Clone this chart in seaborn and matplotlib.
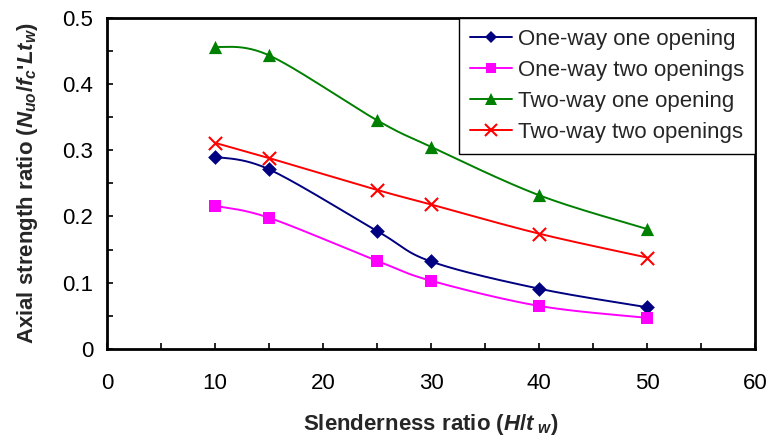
import numpy as np
import pandas as pd
import matplotlib
matplotlib.use("Agg")
import matplotlib.pyplot as plt
from matplotlib.lines import Line2D
from matplotlib.ticker import MultipleLocator
import seaborn as sns

slenderness = [10, 15, 25, 30, 40, 50]
one_way_one = [0.290, 0.271, 0.178, 0.132, 0.091, 0.063]
one_way_two = [0.216, 0.198, 0.133, 0.103, 0.065, 0.047]
two_way_one = [0.456, 0.443, 0.345, 0.305, 0.232, 0.181]
two_way_two = [0.311, 0.288, 0.240, 0.218, 0.174, 0.138]

series_names = ["One-way one opening", "One-way two openings",
                "Two-way one opening", "Two-way two openings"]
series_values = [one_way_one, one_way_two, two_way_one, two_way_two]
colors = ["#000080", "#FF00FF", "#008000", "#FF0000"]
markers = ["D", "s", "^", "x"]
msizes = [7.5, 8.5, 9.5, 9.5]

sns.set_style("ticks")
plt.rcParams['font.family'] = ['Liberation Sans', 'DejaVu Sans']
plt.rcParams['mathtext.fontset'] = 'custom'
plt.rcParams['mathtext.it'] = 'Liberation Sans:bold:italic'
plt.rcParams['mathtext.rm'] = 'Liberation Sans:bold'
plt.rcParams['mathtext.bf'] = 'Liberation Sans:bold'


def smooth(x, y, n=30):
    # Bezier smoothing through the data points (Excel-like smoothed line)
    x = np.asarray(x, float); y = np.asarray(y, float)
    P = np.column_stack([x, y])
    out = []
    m = len(P)
    for i in range(m - 1):
        p0 = P[i - 1] if i > 0 else P[i]
        p1 = P[i]; p2 = P[i + 1]
        p3 = P[i + 2] if i + 2 < m else P[i + 1]
        c1 = p1 + (p2 - p0) / 6.0
        c2 = p2 - (p3 - p1) / 6.0
        t = np.linspace(0, 1, n)[:, None]
        seg = ((1 - t) ** 3) * p1 + 3 * ((1 - t) ** 2) * t * c1 + 3 * (1 - t) * t ** 2 * c2 + t ** 3 * p2
        out.append(seg if i == 0 else seg[1:])
    s = np.vstack(out)
    return s[:, 0], s[:, 1]


fig = plt.figure(figsize=(7.72, 4.38), dpi=100)
ax = fig.add_axes([0.1386, 0.2032, 0.978 - 0.1386, 0.960 - 0.2032])

handles = []
for name, vals, c, mk, ms in zip(series_names, series_values, colors, markers, msizes):
    sx, sy = smooth(slenderness, vals)
    ax.plot(sx, sy, color=c, lw=1.4, zorder=2)
    df = pd.DataFrame({"x": slenderness, "y": vals})
    sns.scatterplot(data=df, x="x", y="y", ax=ax, marker=mk, color=c,
                    s=ms ** 2, linewidth=1.5 if mk == "x" else 0,
                    edgecolor=c if mk != "x" else None, zorder=3, legend=False)
    handles.append(Line2D([0], [0], color=c, lw=1.4, marker=mk, markersize=ms * 0.85,
                          markeredgewidth=1.5 if mk == "x" else 0, label=name))

ax.set_xlim(0, 60)
ax.set_ylim(0, 0.5)
ax.xaxis.set_major_locator(MultipleLocator(10))
ax.xaxis.set_minor_locator(MultipleLocator(5))
ax.yaxis.set_major_locator(MultipleLocator(0.1))
ax.yaxis.set_minor_locator(MultipleLocator(0.05))
ax.set_xticklabels([f"{int(v)}" for v in ax.get_xticks()])
ax.set_yticklabels(["0" if v == 0 else f"{v:.1f}" for v in ax.get_yticks()])
ax.tick_params(which='both', direction='in', length=4, width=1.2, labelsize=16,
               colors='black')
ax.tick_params(axis='x', pad=17)
ax.tick_params(axis='y', pad=10)
for sp in ax.spines.values():
    sp.set_linewidth(2)
    sp.set_color('black')

ax.set_xlabel(r"Slenderness ratio ($H/t_{\ w}$)", fontsize=16, fontweight='bold', labelpad=13)
ax.set_ylabel(r"Axial strength ratio ($N_{uo}/f_c$'$Lt_w$)", fontsize=16, fontweight='bold', labelpad=16)

leg = ax.legend(handles=handles, loc='upper right', fontsize=16, frameon=True,
                fancybox=False, edgecolor='black', framealpha=1, borderaxespad=0,
                handlelength=1.9, handletextpad=0.25, labelspacing=0.45,
                borderpad=0.5)
leg.get_frame().set_linewidth(1.0)

fig.savefig("out.png", dpi=100)
